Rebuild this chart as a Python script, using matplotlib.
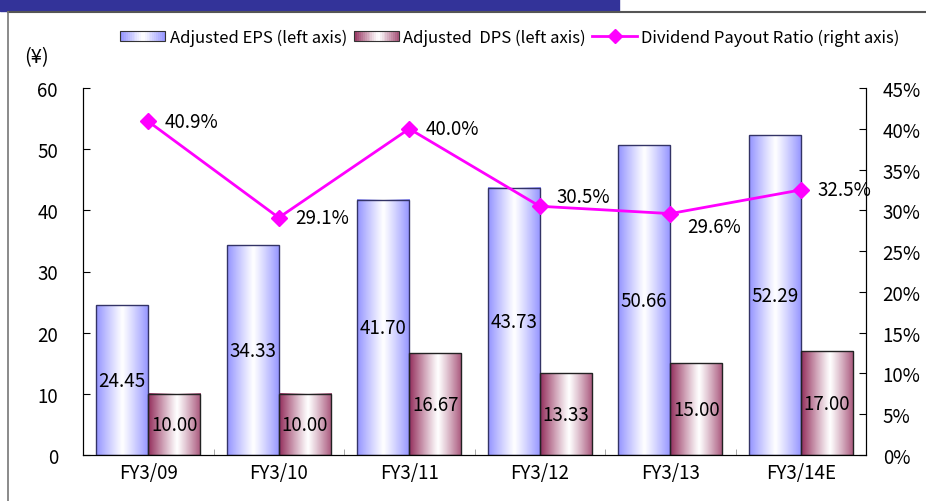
import numpy as np
import matplotlib
matplotlib.use("Agg")
import matplotlib.pyplot as plt
from matplotlib.patches import Rectangle
from matplotlib.lines import Line2D
from matplotlib.legend_handler import HandlerBase
from matplotlib.ticker import FuncFormatter

plt.rcParams["font.family"] = ["Noto Sans CJK JP", "DejaVu Sans"]

categories = ["FY3/09", "FY3/10", "FY3/11", "FY3/12", "FY3/13", "FY3/14E"]
eps = [24.45, 34.33, 41.70, 43.73, 50.66, 52.29]
dps = [10.00, 10.00, 16.67, 13.33, 15.00, 17.00]
payout = [40.9, 29.1, 40.0, 30.5, 29.6, 32.5]
# vertical nudge (points) of each payout label
label_dy = [0, 0, 0, 7, -9, 0]

EPS_EDGE = np.array([0.58, 0.58, 1.0])
DPS_EDGE = np.array([0.58, 0.18, 0.36])
LINE_C = "#FF00FF"
FS = 13.5


def gradient(edge, center=0.5, n=64):
    t = np.linspace(0, 1, n)
    half = max(center, 1 - center)
    w = np.clip(1 - np.abs((t - center) / half) ** 1.1, 0, 1)
    return edge[None, :] * (1 - w[:, None]) + w[:, None]


class GradHandler(HandlerBase):
    def __init__(self, edge, center):
        super().__init__()
        self.edge, self.center = edge, center

    def create_artists(self, legend, orig, xd, yd, width, height, fontsize, trans):
        cols = gradient(self.edge, self.center, 24)
        n = len(cols)
        arts = [Rectangle((-xd + width * k / n, -yd), width / n + 0.3, height,
                          color=cols[k], lw=0, transform=trans) for k in range(n)]
        arts.append(Rectangle((-xd, -yd), width, height, fill=False, ec="#333333",
                              lw=0.8, transform=trans))
        return arts


W, H = 926, 502
fig = plt.figure(figsize=(W / 100, H / 100), dpi=100)

# header band and frame
fig.patches.append(Rectangle((0, 1 - 12 / H), 619 / W, 12 / H, transform=fig.transFigure,
                             color="#333399", zorder=0))
fig.lines.append(Line2D([8 / W, 1], [1 - 12.5 / H] * 2, transform=fig.transFigure,
                        color="#555555", lw=1.5))
fig.lines.append(Line2D([8 / W, 8 / W], [0, 1 - 12.5 / H], transform=fig.transFigure,
                        color="#777777", lw=1.2))

ax = fig.add_axes([83 / W, 46 / H, 783 / W, 367 / H])
x = np.arange(len(categories))
bw = 0.4
for i in x:
    for val, edge, off, c, ec in [(eps[i], EPS_EDGE, -bw / 2, 0.5, "#333366"),
                                  (dps[i], DPS_EDGE, bw / 2, 0.55, "#222222")]:
        x0 = i + off - bw / 2
        ax.imshow(gradient(edge, c)[None, :, :], extent=[x0, x0 + bw, 0, val],
                  aspect="auto", interpolation="bilinear", zorder=2)
        ax.add_patch(Rectangle((x0, 0), bw, val, fill=False, ec=ec, lw=1, zorder=3))
        ax.text(i + off, val / 2, f"{val:.2f}", ha="center", va="center",
                fontsize=FS, zorder=5)

ax.set_xlim(-0.5, len(categories) - 0.5)
ax.set_ylim(0, 60)
ax.set_yticks(range(0, 61, 10))
ax.set_xticks(x)
ax.set_xticklabels(categories, fontsize=FS)
ax.set_xticks(np.arange(0.5, len(categories) - 1, 1), minor=True)
ax.tick_params(axis="x", which="major", length=0, pad=5)
ax.tick_params(axis="x", which="minor", length=4, direction="in", color="#999999")
ax.tick_params(axis="y", direction="in", length=5, labelsize=FS, pad=18)
ax.spines["top"].set_visible(False)

ax2 = ax.twinx()
ax2.plot(x, payout, color=LINE_C, lw=2, marker="D", ms=8, zorder=6)
for i, p, dy in zip(x, payout, label_dy):
    ax2.annotate(f"{p:.1f}%", (i, p), xytext=(12, dy), textcoords="offset points",
                 ha="left", va="center", fontsize=FS)
ax2.set_ylim(0, 45)
ax2.set_yticks(range(0, 46, 5))
ax2.yaxis.set_major_formatter(FuncFormatter(lambda v, _: f"{v:.0f}%"))
ax2.tick_params(axis="y", direction="in", length=5, labelsize=FS, pad=12)
ax2.spines["top"].set_visible(False)

fig.text(24 / W, 1 - 58 / H, "(¥)", fontsize=FS + 1, va="center", ha="left")

h_eps = Rectangle((0, 0), 1, 1)
h_dps = Rectangle((0, 0), 1, 1)
h_line = Line2D([], [], color=LINE_C, lw=2, marker="D", ms=7)
labels = ["Adjusted EPS (left axis)", "Adjusted  DPS (left axis)",
          "Dividend Payout Ratio (right axis)"]
fig.legend([h_eps, h_dps, h_line], labels, loc="center",
           bbox_to_anchor=(510 / W, 1 - 38 / H), ncol=3, frameon=False,
           fontsize=12, handlelength=2.7, handleheight=0.55,
           columnspacing=0.4, handletextpad=0.25,
           handler_map={h_eps: GradHandler(EPS_EDGE, 0.5),
                        h_dps: GradHandler(DPS_EDGE, 0.55)})

fig.savefig("out.png", dpi=100)
